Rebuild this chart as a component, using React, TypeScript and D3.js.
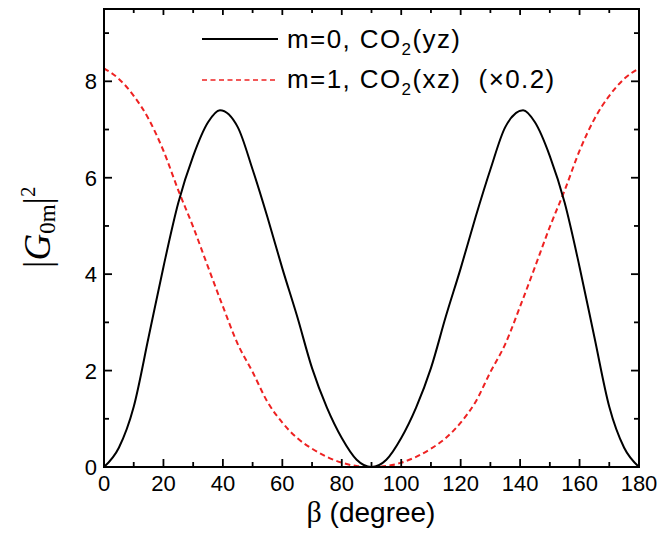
import React from "react";
import * as d3 from "d3";

const m0Angles = [0, 5, 10, 15, 20, 25, 30, 35, 39, 45, 50, 55, 60, 65, 70, 75, 80, 85, 90,
  95, 100, 105, 110, 115, 120, 125, 130, 135, 141, 145, 150, 155, 160, 165, 170, 175, 180];
const m0Values = [0, 0.40, 1.25, 2.69, 4.15, 5.48, 6.45, 7.15, 7.40, 7.05, 6.17, 5.18, 4.12, 3.12, 2.05, 1.23, 0.60, 0.15, 0,
  0.15, 0.60, 1.23, 2.05, 3.12, 4.12, 5.18, 6.17, 7.05, 7.40, 7.15, 6.45, 5.48, 4.15, 2.69, 1.25, 0.40, 0];

const m1Angles = [0, 5, 10, 15, 20, 25, 30, 35, 40, 45, 50, 55, 60, 65, 70, 75, 80, 85, 90,
  95, 100, 105, 110, 115, 120, 125, 130, 135, 140, 145, 150, 155, 160, 165, 170, 175, 180];
const m1Values = [8.27, 8.05, 7.70, 7.22, 6.56, 5.74, 4.98, 4.15, 3.33, 2.55, 1.97, 1.35, 0.92, 0.60, 0.38, 0.21, 0.09, 0.02, 0,
  0.02, 0.09, 0.21, 0.38, 0.60, 0.92, 1.35, 1.97, 2.55, 3.33, 4.15, 4.98, 5.74, 6.56, 7.22, 7.70, 8.05, 8.27];

const xMajorTicks = [0, 20, 40, 60, 80, 100, 120, 140, 160, 180];
const xMinorTicks = [10, 30, 50, 70, 90, 110, 130, 150, 170];
const yMajorTicks = [0, 2, 4, 6, 8];
const yMinorTicks = [1, 3, 5, 7, 9];

const W = 659;
const H = 533;
const L = 104, R = 639, T = 9, B = 467;

export default function App() {
  const x = d3.scaleLinear().domain([0, 180]).range([L, R]);
  const y = d3.scaleLinear().domain([0, 9.5]).range([B, T]);
  const line = d3.line<[number, number]>()
    .x((d) => x(d[0]))
    .y((d) => y(d[1]))
    .curve(d3.curveMonotoneX);
  const m0Path = line(m0Angles.map((a, i) => [a, m0Values[i]]) as [number, number][]) || "";
  const m1Path = line(m1Angles.map((a, i) => [a, m1Values[i]]) as [number, number][]) || "";

  const sans = "'Liberation Sans', Arial, Helvetica, sans-serif";
  const serif = "'Liberation Serif', 'Times New Roman', serif";
  const red = "#ee2222";
  const maj = 8, mnr = 5;

  return (
    <svg width={W} height={H} style={{ position: "absolute", left: 0, top: 0, background: "#fff" }}>
      <rect x={0} y={0} width={W} height={H} fill="#fff" />
      {/* curves */}
      <path d={m1Path} fill="none" stroke={red} strokeWidth={2} strokeDasharray="5.5,3.5" />
      <path d={m0Path} fill="none" stroke="#000" strokeWidth={2} />

      {/* frame */}
      <rect x={L} y={T} width={R - L} height={B - T} fill="none" stroke="#000" strokeWidth={2} />

      {/* x ticks */}
      {xMajorTicks.map((t) => (
        <g key={"xm" + t}>
          <line x1={x(t)} x2={x(t)} y1={B} y2={B - maj} stroke="#000" strokeWidth={1.8} />
          <line x1={x(t)} x2={x(t)} y1={T} y2={T + maj - 2} stroke="#000" strokeWidth={1.8} />
          <text x={x(t)} y={491} textAnchor="middle" fontFamily={sans} fontSize={22}>{t}</text>
        </g>
      ))}
      {xMinorTicks.map((t) => (
        <g key={"xn" + t}>
          <line x1={x(t)} x2={x(t)} y1={B} y2={B - mnr} stroke="#000" strokeWidth={1.8} />
          <line x1={x(t)} x2={x(t)} y1={T} y2={T + mnr - 1} stroke="#000" strokeWidth={1.8} />
        </g>
      ))}
      {/* y ticks */}
      {yMajorTicks.map((t) => (
        <g key={"ym" + t}>
          <line x1={L} x2={L + maj} y1={y(t)} y2={y(t)} stroke="#000" strokeWidth={1.8} />
          <line x1={R} x2={R - maj} y1={y(t)} y2={y(t)} stroke="#000" strokeWidth={1.8} />
          <text x={97} y={y(t) + 8} textAnchor="end" fontFamily={sans} fontSize={22}>{t}</text>
        </g>
      ))}
      {yMinorTicks.map((t) => (
        <g key={"yn" + t}>
          <line x1={L} x2={L + mnr} y1={y(t)} y2={y(t)} stroke="#000" strokeWidth={1.8} />
          <line x1={R} x2={R - mnr} y1={y(t)} y2={y(t)} stroke="#000" strokeWidth={1.8} />
        </g>
      ))}

      {/* x axis title */}
      <text x={371} y={522} textAnchor="middle" fontFamily={sans} fontSize={28}>
        <tspan fontFamily={serif} fontSize={30}>β</tspan> (degree)
      </text>

      {/* y axis title */}
      <text transform="translate(50,268) rotate(-90)" fontFamily={serif} fontSize={37}>
        <tspan>|</tspan>
        <tspan fontStyle="italic">G</tspan>
        <tspan fontSize={23} dy={5}>0m</tspan>
        <tspan dy={-5}>|</tspan>
        <tspan fontSize={21} dy={-15}>2</tspan>
      </text>

      {/* legend */}
      <line x1={202} x2={278} y1={39} y2={39} stroke="#000" strokeWidth={2} />
      <text x={287} y={48} fontFamily={sans} fontSize={26} letterSpacing={1.4}>
        m=0, CO<tspan fontSize={17} dy={7}>2</tspan><tspan dy={-7}>(yz)</tspan>
      </text>
      <line x1={202} x2={278} y1={80} y2={80} stroke={red} strokeWidth={1.6} strokeDasharray="5,3.5" />
      <text x={287} y={88} fontFamily={sans} fontSize={26} letterSpacing={1.4} xmlSpace="preserve">
        m=1, CO<tspan fontSize={17} dy={7}>2</tspan><tspan dy={-7}>(xz)  (×0.2)</tspan>
      </text>
    </svg>
  );
}
